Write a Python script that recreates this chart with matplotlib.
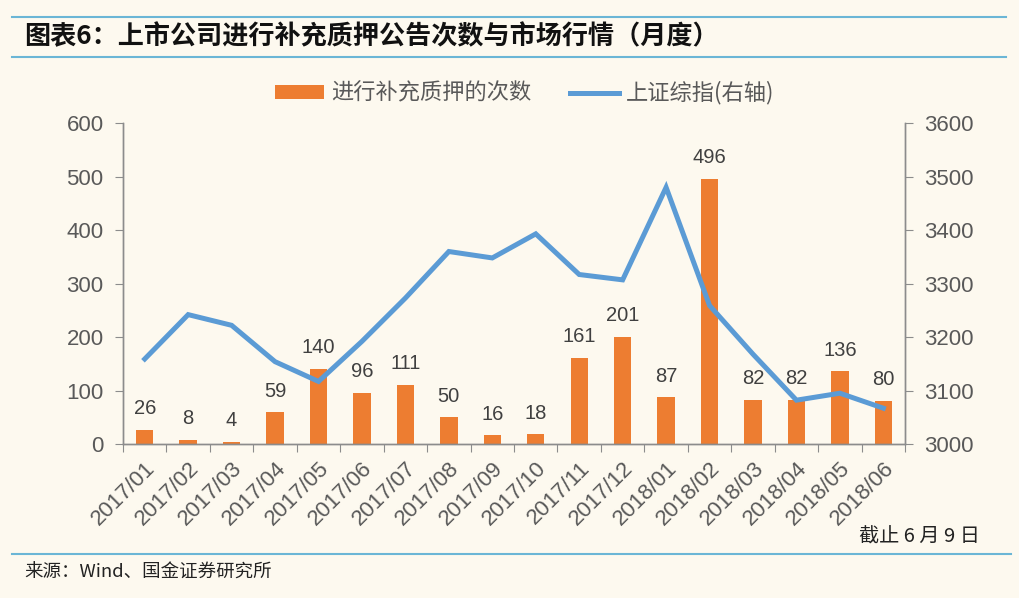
import matplotlib
matplotlib.use("Agg")
import matplotlib.pyplot as plt
from matplotlib.lines import Line2D
from matplotlib.patches import Patch

plt.rcParams['font.family'] = ['Liberation Sans', 'Noto Sans CJK SC', 'DejaVu Sans']

months = ["2017/01", "2017/02", "2017/03", "2017/04", "2017/05", "2017/06",
          "2017/07", "2017/08", "2017/09", "2017/10", "2017/11", "2017/12",
          "2018/01", "2018/02", "2018/03", "2018/04", "2018/05", "2018/06"]
counts = [26, 8, 4, 59, 140, 96, 111, 50, 16, 18, 161, 201, 87, 496, 82, 82, 136, 80]
sh_index = [3159, 3242, 3222, 3154, 3117, 3192, 3273, 3360, 3348, 3393, 3317, 3307,
            3480, 3259, 3168, 3082, 3095, 3067]
left_ticks = [0, 100, 200, 300, 400, 500, 600]
right_ticks = [3000, 3100, 3200, 3300, 3400, 3500, 3600]

bg = '#FDF9EF'
orange = '#ED7D31'
blue = '#5B9BD5'
grey = '#595959'
axis_grey = '#8C8C8C'
rule = '#6BB6D6'

fig = plt.figure(figsize=(10.19, 5.98), dpi=100, facecolor=bg)
ax = fig.add_axes([0.1207, 0.2575, 0.7675, 0.5365])
ax.set_facecolor(bg)
x = list(range(len(months)))
ax.bar(x, counts, width=0.4, color=orange, zorder=2)
for xi, v in zip(x, counts):
    ax.text(xi, v + 22, str(v), ha='center', va='bottom', fontsize=14.5, color='#404040', zorder=5)
ax.set_xlim(-0.5, len(months) - 0.5)
ax.set_ylim(0, 600)
ax.set_yticks(left_ticks)
ax.set_xticks([i - 0.5 for i in range(len(months) + 1)], minor=False)
ax.set_xticklabels([])
ax.set_xticks(x, minor=True)
ax.set_xticklabels(months, minor=True, rotation=45, ha='right', rotation_mode='anchor',
                   fontsize=16, color=grey)
ax.tick_params(axis='x', which='minor', length=0, pad=10)
ax.tick_params(axis='x', which='major', length=6, color=axis_grey, direction='out')
ax.tick_params(axis='y', length=6, color=axis_grey, labelsize=16, labelcolor=grey,
               direction='out', pad=8)

ax2 = ax.twinx()
ax2.plot(x, sh_index, color=blue, linewidth=3.6, zorder=3, solid_joinstyle='miter')
ax2.set_ylim(3000, 3600)
ax2.set_yticks(right_ticks)
ax2.tick_params(axis='y', length=6, color=axis_grey, labelsize=16, labelcolor=grey,
                direction='out', pad=8)

for a in (ax, ax2):
    a.spines['top'].set_visible(False)
    for s in ('left', 'right', 'bottom'):
        a.spines[s].set_color(axis_grey)
        a.spines[s].set_linewidth(1.0)

handles = [Patch(facecolor=orange, edgecolor='none'),
           Line2D([0], [0], color=blue, linewidth=3.6)]
fig.legend(handles, ['进行补充质押的次数', '上证综指(右轴)'], loc='center',
           bbox_to_anchor=(0.515, 1 - 93 / 598), ncol=2, frameon=False,
           labelcolor=grey, handlelength=2.2, handleheight=0.55, columnspacing=1.7,
           handletextpad=0.35, prop={'family': ['Noto Sans CJK SC'], 'size': 16})

# title rules and texts
fig.add_artist(Line2D([0.012, 0.987], [1 - 17 / 598, 1 - 17 / 598], color=rule, linewidth=1.5))
fig.add_artist(Line2D([0.012, 0.987], [1 - 57 / 598, 1 - 57 / 598], color=rule, linewidth=1.5))
fig.add_artist(Line2D([0.012, 0.992], [1 - 554 / 598, 1 - 554 / 598], color=rule, linewidth=1.5))
fig.text(0.024, 1 - 37 / 598, '图表6：上市公司进行补充质押公告次数与市场行情（月度）', fontsize=18.8,
         fontweight='bold', va='center', ha='left', color='#111111',
         family=['Noto Sans CJK SC'])
fig.text(0.962, 1 - 537 / 598, '截止 6 月 9 日', fontsize=14.5, va='center', ha='right',
         color='#222222', family=['Noto Sans CJK SC', 'DejaVu Sans'])
fig.text(0.024, 1 - 573 / 598, '来源：Wind、国金证券研究所', fontsize=13.3, va='center', ha='left',
         color='#222222', family=['Noto Sans CJK SC', 'DejaVu Sans'])

fig.savefig('out.png', dpi=100, facecolor=bg)
